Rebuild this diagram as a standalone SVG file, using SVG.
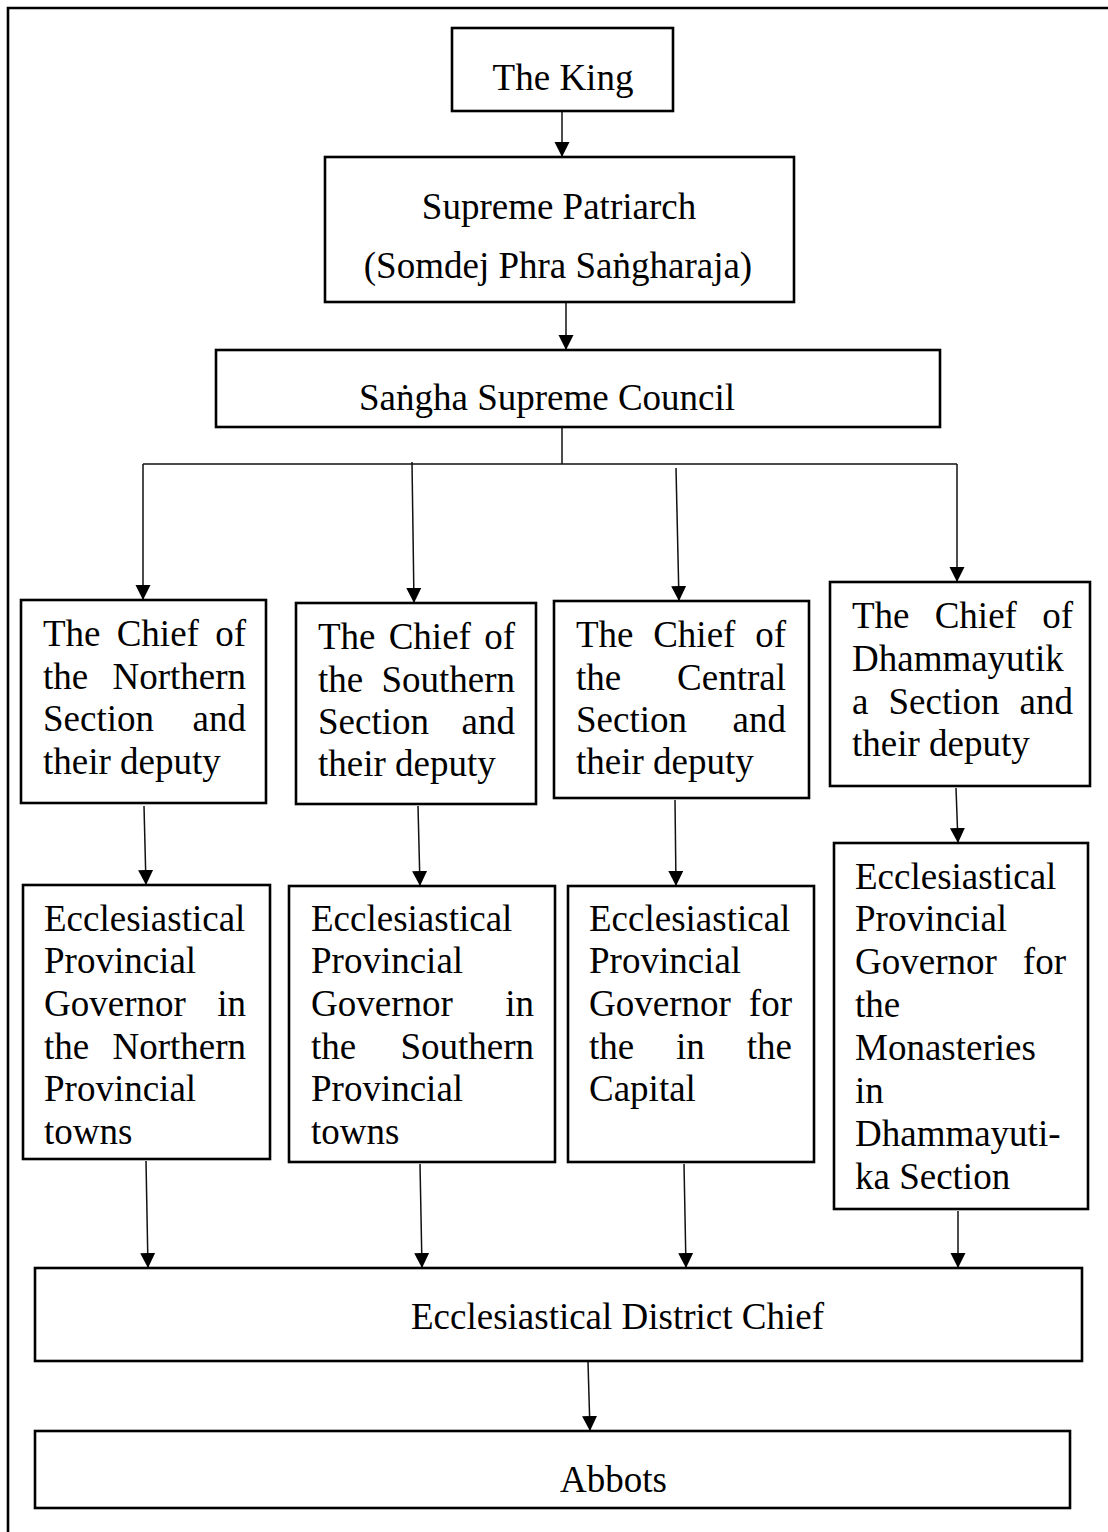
<svg xmlns="http://www.w3.org/2000/svg" width="1108" height="1532" viewBox="0 0 1108 1532">
  <style>
    .box { fill: #ffffff; stroke: #000000; stroke-width: 2.6; }
    .frame { fill: none; stroke: #000000; stroke-width: 2.6; }
    .conn { fill: none; stroke: #111111; stroke-width: 1.5; }
    text { font-family: "Liberation Serif", "Times New Roman", "DejaVu Serif", serif; font-size: 37px; fill: #000000; }
    .mid { text-anchor: middle; }
    .end { text-anchor: end; }
  </style>
  <defs>
    <marker id="arrow" markerUnits="userSpaceOnUse" markerWidth="16" markerHeight="16" refX="15" refY="7.5" orient="auto">
      <path d="M0,0 L15,7.5 L0,15 Z" fill="#000000"/>
    </marker>
  </defs>

  <rect x="0" y="0" width="1108" height="1532" fill="#ffffff"/>
  <!-- page frame: only the left and top edges fall inside the sheet -->
  <path class="frame" d="M8,1540 V8 H1120"/>

  <!-- connectors -->
  <g id="connectors">
    <line class="conn" x1="562" y1="111" x2="562" y2="157" marker-end="url(#arrow)"/>
    <line class="conn" x1="566" y1="299" x2="566" y2="350" marker-end="url(#arrow)"/>
    <line class="conn" x1="562" y1="427" x2="562" y2="464"/>
    <line class="conn" x1="143" y1="464" x2="957" y2="464"/>
    <line class="conn" x1="143" y1="464" x2="143" y2="600" marker-end="url(#arrow)"/>
    <line class="conn" x1="412" y1="462" x2="414" y2="603" marker-end="url(#arrow)"/>
    <line class="conn" x1="676" y1="468" x2="679" y2="601" marker-end="url(#arrow)"/>
    <line class="conn" x1="957" y1="464" x2="957" y2="582" marker-end="url(#arrow)"/>
    <line class="conn" x1="144" y1="806" x2="146" y2="885" marker-end="url(#arrow)"/>
    <line class="conn" x1="418" y1="806" x2="420" y2="886" marker-end="url(#arrow)"/>
    <line class="conn" x1="675" y1="800" x2="676" y2="886" marker-end="url(#arrow)"/>
    <line class="conn" x1="956" y1="788" x2="958" y2="843" marker-end="url(#arrow)"/>
    <line class="conn" x1="146" y1="1161" x2="148" y2="1268" marker-end="url(#arrow)"/>
    <line class="conn" x1="420" y1="1164" x2="422" y2="1268" marker-end="url(#arrow)"/>
    <line class="conn" x1="684" y1="1164" x2="686" y2="1268" marker-end="url(#arrow)"/>
    <line class="conn" x1="958" y1="1211" x2="958" y2="1268" marker-end="url(#arrow)"/>
    <line class="conn" x1="588" y1="1362" x2="590" y2="1431" marker-end="url(#arrow)"/>
  </g>

  <g id="king">
    <rect class="box" x="452" y="28" width="221" height="83"/>
    <text class="mid" x="563" y="90">The King</text>
  </g>

  <g id="supreme-patriarch">
    <rect class="box" x="325" y="157" width="469" height="145"/>
    <text class="mid" x="559" y="219">Supreme Patriarch</text>
    <text class="mid" x="558" y="278">(Somdej Phra Saṅgharaja)</text>
  </g>

  <g id="sangha-council">
    <rect class="box" x="216" y="350" width="724" height="77"/>
    <text x="359" y="410">Saṅgha Supreme Council</text>
  </g>

  <g id="chief-northern">
    <rect class="box" x="21" y="600" width="245" height="203"/>
    <text x="43" y="646">The</text><text x="116.7" y="646">Chief</text><text class="end" x="246" y="646">of</text>
    <text x="43" y="689">the</text><text class="end" x="246" y="689">Northern</text>
    <text x="43" y="731">Section</text><text class="end" x="246" y="731">and</text>
    <text x="43" y="774">their deputy</text>
  </g>

  <g id="chief-southern">
    <rect class="box" x="296" y="603" width="240" height="201"/>
    <text x="318" y="649">The</text><text x="388.7" y="649">Chief</text><text class="end" x="515" y="649">of</text>
    <text x="318" y="692">the</text><text class="end" x="515" y="692">Southern</text>
    <text x="318" y="734">Section</text><text class="end" x="515" y="734">and</text>
    <text x="318" y="776">their deputy</text>
  </g>

  <g id="chief-central">
    <rect class="box" x="554" y="601" width="255" height="197"/>
    <text x="576" y="647">The</text><text x="653.2" y="647">Chief</text><text class="end" x="786" y="647">of</text>
    <text x="576" y="690">the</text><text class="end" x="786" y="690">Central</text>
    <text x="576" y="732">Section</text><text class="end" x="786" y="732">and</text>
    <text x="576" y="774">their deputy</text>
  </g>

  <g id="chief-dhammayutika">
    <rect class="box" x="830" y="582" width="260" height="204"/>
    <text x="852" y="628">The</text><text x="934.7" y="628">Chief</text><text class="end" x="1073" y="628">of</text>
    <text x="852" y="671">Dhammayutik</text>
    <text x="852" y="714">a</text><text x="888.5" y="714">Section</text><text class="end" x="1073" y="714">and</text>
    <text x="852" y="756">their deputy</text>
  </g>

  <g id="governor-northern">
    <rect class="box" x="23" y="885" width="247" height="274"/>
    <text x="44" y="931">Ecclesiastical</text>
    <text x="44" y="973">Provincial</text>
    <text x="44" y="1016">Governor</text><text class="end" x="246" y="1016">in</text>
    <text x="44" y="1059">the</text><text class="end" x="246" y="1059">Northern</text>
    <text x="44" y="1101">Provincial</text>
    <text x="44" y="1144">towns</text>
  </g>

  <g id="governor-southern">
    <rect class="box" x="289" y="886" width="266" height="276"/>
    <text x="311" y="931">Ecclesiastical</text>
    <text x="311" y="973">Provincial</text>
    <text x="311" y="1016">Governor</text><text class="end" x="534" y="1016">in</text>
    <text x="311" y="1059">the</text><text class="end" x="534" y="1059">Southern</text>
    <text x="311" y="1101">Provincial</text>
    <text x="311" y="1144">towns</text>
  </g>

  <g id="governor-capital">
    <rect class="box" x="568" y="886" width="246" height="276"/>
    <text x="589" y="931">Ecclesiastical</text>
    <text x="589" y="973">Provincial</text>
    <text x="589" y="1016">Governor</text><text class="end" x="792" y="1016">for</text>
    <text x="589" y="1059">the</text><text x="676.1" y="1059">in</text><text class="end" x="792" y="1059">the</text>
    <text x="589" y="1101">Capital</text>
  </g>

  <g id="governor-dhammayutika">
    <rect class="box" x="834" y="843" width="254" height="366"/>
    <text x="855" y="889">Ecclesiastical</text>
    <text x="855" y="931">Provincial</text>
    <text x="855" y="974">Governor</text><text class="end" x="1066" y="974">for</text>
    <text x="855" y="1017">the</text>
    <text x="855" y="1060">Monasteries</text>
    <text x="855" y="1103">in</text>
    <text x="855" y="1146">Dhammayuti-</text>
    <text x="855" y="1189">ka Section</text>
  </g>

  <g id="district-chief">
    <rect class="box" x="35" y="1268" width="1047" height="93"/>
    <text class="mid" x="617.5" y="1329">Ecclesiastical District Chief</text>
  </g>

  <g id="abbots">
    <rect class="box" x="35" y="1431" width="1035" height="77"/>
    <text class="mid" x="613.5" y="1492">Abbots</text>
  </g>
</svg>
